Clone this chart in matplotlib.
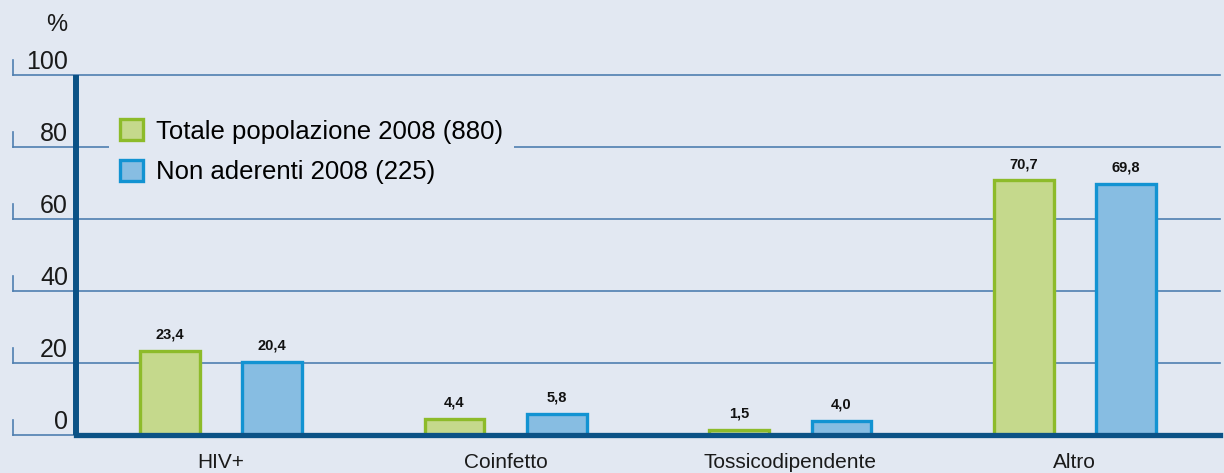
import matplotlib.pyplot as plt
import numpy as np
from matplotlib.patches import Patch

# dati
categorie = ["HIV+", "Coinfetto", "Tossicodipendente", "Altro"]
totale = [23.4, 4.4, 1.5, 70.7]
non_aderenti = [20.4, 5.8, 4.0, 69.8]
serie = ["Totale popolazione 2008 (880)", "Non aderenti 2008 (225)"]
yticks = [0, 20, 40, 60, 80, 100]

BG = "#e2e8f2"
GRID = "#4f7fb0"
AXIS = "#0b5286"
GREEN_F, GREEN_E = "#c5d98c", "#8dbb2a"
BLUE_F, BLUE_E = "#87bde2", "#1293d2"

plt.rcParams["font.family"] = ["Liberation Sans", "DejaVu Sans"]

fig = plt.figure(figsize=(12.24, 4.73), dpi=100, facecolor=BG)
ax = fig.add_axes([76 / 1224, 38 / 473, 1144 / 1224, 360 / 473])
ax.set_facecolor(BG)

x = np.arange(len(categorie))
w = 0.21
off = 0.18
b1 = ax.bar(x - off, totale, w, color=GREEN_F, edgecolor=GREEN_E, linewidth=2.4, zorder=3)
b2 = ax.bar(x + off, non_aderenti, w, color=BLUE_F, edgecolor=BLUE_E, linewidth=2.4, zorder=3)

# etichette valori
for rects, vals in ((b1, totale), (b2, non_aderenti)):
    for r, v in zip(rects, vals):
        ax.text(r.get_x() + r.get_width() / 2, v + 2.6, f"{v:.1f}".replace(".", ","),
                ha="center", va="bottom", fontsize=10.5, fontweight="bold", color="#111111")

ax.set_xlim(-0.51, 3.51)
ax.set_ylim(0, 100)

# griglia che esce a sinistra, con tacchette
trans = ax.get_yaxis_transform()
x0 = -63 / 1144
for v in yticks:
    ax.axhline(v, xmin=x0, xmax=1, color=GRID, lw=1.2, clip_on=False, zorder=1)
    ax.plot([x0, x0], [v, v + 4.2], color=GRID, lw=1.2, transform=trans, clip_on=False)
    ax.text(-8 / 1144, v + 1.8, str(v), transform=trans, ha="right", va="baseline",
            fontsize=18, color="#1a1a1a")
ax.text(-19 / 1144, 114, "%", transform=trans, ha="center", va="center", fontsize=17, color="#1a1a1a")

for s in ("top", "right"):
    ax.spines[s].set_visible(False)
ax.spines["left"].set_color(AXIS)
ax.spines["left"].set_linewidth(4.3)
ax.spines["left"].set_capstyle("butt")
ax.spines["bottom"].set_color(AXIS)
ax.spines["bottom"].set_linewidth(3.8)
ax.spines["bottom"].set_zorder(4)

ax.set_yticks([])
ax.set_xticks(x)
ax.set_xticklabels(categorie, fontsize=15, color="#1a1a1a")
ax.tick_params(axis="x", length=0, pad=13)

handles = [Patch(facecolor=GREEN_F, edgecolor=GREEN_E, linewidth=2.4),
           Patch(facecolor=BLUE_F, edgecolor=BLUE_E, linewidth=2.4)]
leg = ax.legend(handles, serie, loc="upper left", bbox_to_anchor=(0.029, 0.908),
                fontsize=18.5, frameon=True, facecolor=BG, edgecolor="none", framealpha=1,
                handlelength=0.9, handleheight=0.9, handletextpad=0.5,
                labelspacing=0.62, borderpad=0.43, borderaxespad=0, fancybox=False)
leg.set_zorder(5)

fig.savefig("out.png", dpi=100, facecolor=BG)
